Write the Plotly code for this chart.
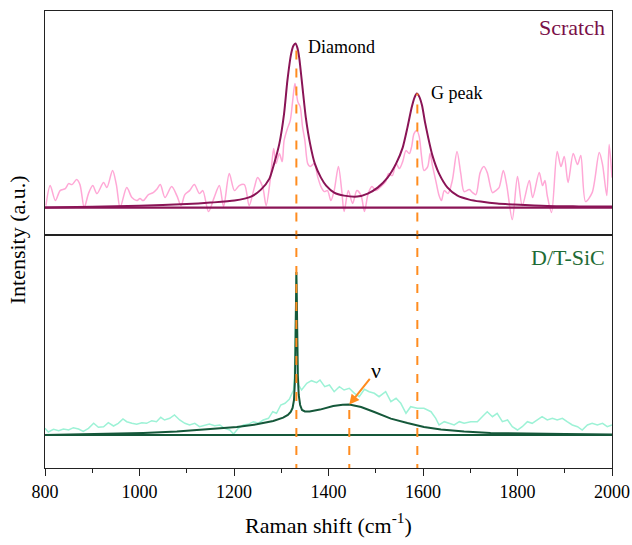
import plotly.graph_objects as go

# ---------------- data ----------------
x_range = [800, 2000]
x_ticks = [800, 1000, 1200, 1400, 1600, 1800, 2000]
x_minor_ticks = [900, 1100, 1300, 1500, 1700, 1900]

# Scratch: raw spectrum (a.u.)
scratch_raw_x = [802, 811, 822, 832, 843, 850, 857, 867, 874, 883, 892, 901, 910, 924, 931, 943, 951, 959,
                 973, 984, 994, 1001, 1008, 1019, 1029, 1036, 1044, 1054, 1068, 1079, 1088, 1096, 1106, 1116,
                 1127, 1134, 1146, 1158, 1169, 1178, 1190, 1201, 1211, 1222, 1232, 1243, 1250, 1261, 1268,
                 1277, 1284, 1289, 1296, 1302, 1306, 1313, 1319, 1324, 1329, 1335, 1340, 1345, 1350, 1356,
                 1361, 1370, 1377, 1384, 1391, 1398, 1405, 1412, 1421, 1428, 1433, 1442, 1451, 1460, 1469,
                 1476, 1484, 1492, 1500, 1511, 1521, 1527, 1535, 1543, 1550, 1557, 1564, 1571, 1576, 1581,
                 1587, 1592, 1597, 1602, 1610, 1615, 1620, 1627, 1634, 1639, 1645, 1653, 1662, 1672, 1680,
                 1687, 1698, 1705, 1712, 1721, 1729, 1736, 1747, 1754, 1761, 1770, 1777, 1789, 1800, 1810,
                 1825, 1832, 1846, 1853, 1858, 1863, 1872, 1884, 1892, 1899, 1907, 1918, 1927, 1934, 1944,
                 1958, 1973, 1980, 1989, 1994, 2000]
scratch_raw_y = [2, 22, 7, 17, 19, 24, 23, 28, 23, 0, 14, 22, 14, 25, 20, 37, 23, 0,
                 20, 10, 7, 9, 7, 13, 15, 18, 23, 10, 21, 12, 2, 13, 17, 23,
                 14, 17, -4, 10, 22, 1, 34, 17, 22, 23, 2, 20, 30, 20, 2,
                 29, 59, 44, 54, 46, 67, 79, 87, 106, 124, 106, 101, 81, 67, 44,
                 41, 44, 31, 21, 16, 17, 7, 17, 41, 17, -4, 17, 4, 17, 12,
                 -4, 14, 21, 17, 21, 26, 34, 32, 44, 39, 46, 57, 54, 61, 74,
                 77, 71, 51, 37, 41, 54, 42, 27, 12, 7, 17, 14, 27, 56, 34,
                 16, 18, 15, 13, 35, 41, 35, 15, 17, 20, 37, 23, -12, 31, 2,
                 27, 10, 35, 22, 27, 12, -5, 56, 41, 51, 25, 54, 43, 52, 6,
                 15, 55, 43, 12, 63, 30]

# Scratch: fitted envelope (a.u.)
scratch_fit_x = [800, 900, 1000, 1100, 1150, 1201, 1236, 1257, 1275, 1285, 1296, 1306, 1313, 1321, 1326,
                 1330, 1334, 1338, 1345, 1352, 1361, 1371, 1384, 1395, 1412, 1433, 1461, 1483, 1504, 1525,
                 1543, 1557, 1567, 1576, 1582, 1587, 1592, 1598, 1604, 1611, 1620, 1634, 1652, 1673, 1698,
                 1722, 1757, 1793, 1863, 1930, 2000]
scratch_fit_y = [0, 0.8, 1.8, 3.5, 5, 7, 11, 18, 29, 44, 64, 94, 127, 154, 162,
                 164, 160, 150, 120, 90, 64, 44, 30, 22, 15, 12, 11, 14, 20, 30,
                 44, 60, 80, 100, 110, 114, 111, 102, 86, 70, 52, 34, 20, 12, 8,
                 6, 4, 3, 1.5, 1.2, 1]

# D/T-SiC: raw spectrum (a.u.)
sic_raw_x = [800, 807, 818, 829, 839, 850, 860, 871, 881, 892, 903, 913, 924, 934, 945, 955, 965, 973,
             984, 994, 1005, 1015, 1026, 1036, 1045, 1053, 1064, 1074, 1085, 1096, 1106, 1117, 1127, 1138,
             1148, 1159, 1170, 1180, 1191, 1199, 1209, 1220, 1230, 1241, 1251, 1262, 1273, 1282, 1290,
             1299, 1308, 1317, 1322, 1326, 1328, 1330, 1331, 1332, 1333, 1334, 1335, 1337, 1343, 1354,
             1364, 1375, 1382, 1392, 1402, 1412, 1423, 1433, 1444, 1455, 1465, 1476, 1486, 1497, 1507,
             1521, 1532, 1543, 1553, 1564, 1574, 1588, 1602, 1617, 1627, 1634, 1645, 1655, 1666, 1677,
             1687, 1701, 1715, 1729, 1736, 1747, 1757, 1768, 1779, 1789, 1800, 1810, 1821, 1831, 1842,
             1852, 1863, 1874, 1884, 1895, 1905, 1916, 1927, 1937, 1948, 1958, 1969, 1980, 1990, 2000]
sic_raw_y = [6.7, 3, 5.7, 4.3, 6, 5, 7.3, 6, 3.7, 6.7, 11.7, 7.7, 8.3, 12.3, 9, 11.7, 16, 13.3,
             11.7, 10.7, 12.3, 11.7, 14.3, 13.3, 17.7, 15, 16.7, 20, 15, 11.7, 10, 11.7, 8.3, 10,
             11, 9.3, 10, 6.7, 5, 1, 6.7, 10, 10.7, 13.3, 11.7, 15, 16.7, 23.3, 21.7,
             30, 31.7, 35.7, 41.7, 45, 60, 110, 150, 160, 140, 100, 70, 50, 45, 51.7,
             54.3, 52.3, 55, 48.3, 50, 43.3, 48.3, 45, 46.7, 41.7, 38.3, 45.7, 43.3, 41.7, 38.3,
             43.3, 33.3, 36.7, 31.7, 21.7, 28.3, 26.7, 26.7, 23.3, 16.7, 10, 13.3, 11.7, 10, 13.3,
             11.7, 13.3, 13.3, 20, 23.3, 18.3, 21.7, 13.3, 15, 8.3, 5, 8.3, 13.3, 11.7, 15,
             18.3, 15, 16.7, 15, 16.7, 13.3, 10, 8.3, 5, 10, 11.7, 10, 11.7, 8.3, 10]

# D/T-SiC: fitted envelope (a.u.)
sic_fit_x = [800, 938, 1008, 1079, 1149, 1206, 1248, 1283, 1304, 1314, 1320, 1324, 1327, 1329, 1330,
             1331, 1332, 1333, 1334, 1335, 1337, 1340, 1344, 1350, 1360, 1382, 1410, 1430, 1444, 1469,
             1497, 1532, 1567, 1602, 1638, 1687, 1743, 1814, 1900, 2000]
sic_fit_y = [0, 1, 2, 3.4, 5.7, 8, 10.7, 14, 17.4, 20, 23, 27, 35, 55, 85,
             130, 163, 135, 90, 60, 40, 30, 25, 23.5, 23.5, 25.4, 29, 30.3, 30.4, 28,
             23, 16.4, 12, 8, 5.4, 3.4, 2, 1.4, 1, 0.6]

baseline_x = [800, 2000]
baseline_y = [0, 0]

# peak markers
diamond_pos = 1332
g_pos = 1588
nu_pos = 1444
scratch_diamond_top = 164
scratch_g_top = 114
sic_nu_top = 30.4

top_range = [-27, 196.6]
bot_range = [-33, 200.4]

# ---------------- style ----------------
FONT = "Liberation Serif, Times New Roman, serif"
PINK = "#FFA8D6"
MAGENTA = "#8A1456"
CYAN = "#9DF2D6"
GREEN = "#15583A"
ORANGE = "#FF8C1F"
AXC = "#222222"

fig = go.Figure()

# top panel (xaxis2 / yaxis2)
fig.add_trace(go.Scatter(x=scratch_raw_x, y=scratch_raw_y, mode="lines",
                         line=dict(color=PINK, width=1.5, shape="spline", smoothing=0.8),
                         xaxis="x2", yaxis="y2", showlegend=False))
fig.add_trace(go.Scatter(x=baseline_x, y=baseline_y, mode="lines",
                         line=dict(color=MAGENTA, width=2.2), xaxis="x2", yaxis="y2", showlegend=False))
fig.add_trace(go.Scatter(x=scratch_fit_x, y=scratch_fit_y, mode="lines",
                         line=dict(color=MAGENTA, width=2, shape="spline", smoothing=0.6),
                         xaxis="x2", yaxis="y2", showlegend=False))
for xp, ytop in [(diamond_pos, scratch_diamond_top), (g_pos, scratch_g_top)]:
    fig.add_trace(go.Scatter(x=[xp, xp], y=[top_range[0] - 5, ytop], mode="lines",
                             line=dict(color=ORANGE, width=2, dash="dash"),
                             xaxis="x2", yaxis="y2", showlegend=False))

# bottom panel (xaxis / yaxis)
fig.add_trace(go.Scatter(x=sic_raw_x, y=sic_raw_y, mode="lines",
                         line=dict(color=CYAN, width=1.5), showlegend=False))
fig.add_trace(go.Scatter(x=baseline_x, y=baseline_y, mode="lines",
                         line=dict(color=GREEN, width=2.2), showlegend=False))
fig.add_trace(go.Scatter(x=sic_fit_x, y=sic_fit_y, mode="lines",
                         line=dict(color=GREEN, width=2), showlegend=False))
for xp, ytop in [(diamond_pos, bot_range[1] + 5), (g_pos, bot_range[1] + 5), (nu_pos, sic_nu_top)]:
    fig.add_trace(go.Scatter(x=[xp, xp], y=[bot_range[0] - 5, ytop], mode="lines",
                             line=dict(color=ORANGE, width=2, dash="dash"), showlegend=False))

split = 0.5107
axis_common = dict(showline=True, linecolor=AXC, linewidth=1.3, mirror=True,
                   showgrid=False, zeroline=False, automargin=False)

fig.update_layout(
    width=632, height=545,
    margin=dict(l=45, r=20, t=11, b=77, autoexpand=False),
    plot_bgcolor="white", paper_bgcolor="white",
    font=dict(family=FONT, color="black", size=18),
    xaxis=dict(**axis_common, domain=[0, 1], anchor="y", range=x_range,
               tickmode="array", tickvals=x_ticks, ticks="outside", ticklen=7, tickwidth=1.3,
               tickcolor=AXC, tickfont=dict(size=18, family=FONT),
               minor=dict(tickmode="array", tickvals=x_minor_ticks,
                          ticks="outside", ticklen=4, tickwidth=1.3, tickcolor=AXC, showgrid=False),
               title=dict(text="Raman shift (cm<sup>-1</sup>)", font=dict(size=22, family=FONT), standoff=16)),
    yaxis=dict(**axis_common, domain=[0, split], anchor="x", range=bot_range,
               showticklabels=False, ticks=""),
    xaxis2=dict(**axis_common, domain=[0, 1], anchor="y2", range=x_range, matches="x",
                showticklabels=False, ticks=""),
    yaxis2=dict(**axis_common, domain=[split, 1], anchor="x2", range=top_range,
                showticklabels=False, ticks=""),
)

ann = []
ann.append(dict(text="Intensity (a.u.)", xref="paper", yref="paper", x=-0.048, y=0.5,
                textangle=-90, showarrow=False, font=dict(size=22, family=FONT),
                xanchor="center", yanchor="middle"))
ann.append(dict(text="Scratch", xref="x2", yref="y2", x=1990, y=180, showarrow=False,
                xanchor="right", yanchor="middle", font=dict(size=22, color="#7A1048", family=FONT)))
ann.append(dict(text="D/T-SiC", xref="x", yref="y", x=1990, y=178, showarrow=False,
                xanchor="right", yanchor="middle", font=dict(size=22, color="#1E6B35", family=FONT)))
ann.append(dict(text="Diamond", xref="x2", yref="y2", x=1352, y=161, showarrow=False,
                xanchor="left", yanchor="middle", font=dict(size=18, family=FONT)))
ann.append(dict(text="G peak", xref="x2", yref="y2", x=1612, y=115, showarrow=False,
                xanchor="left", yanchor="middle", font=dict(size=18, family=FONT)))
ann.append(dict(text="ν", xref="x", yref="y", x=nu_pos, y=sic_nu_top, ax=27, ay=-34,
                showarrow=True, arrowhead=2, arrowsize=1, arrowwidth=2, arrowcolor=ORANGE,
                font=dict(size=22, family=FONT), standoff=0))
fig.update_layout(annotations=ann)

fig.write_html("out.html")
